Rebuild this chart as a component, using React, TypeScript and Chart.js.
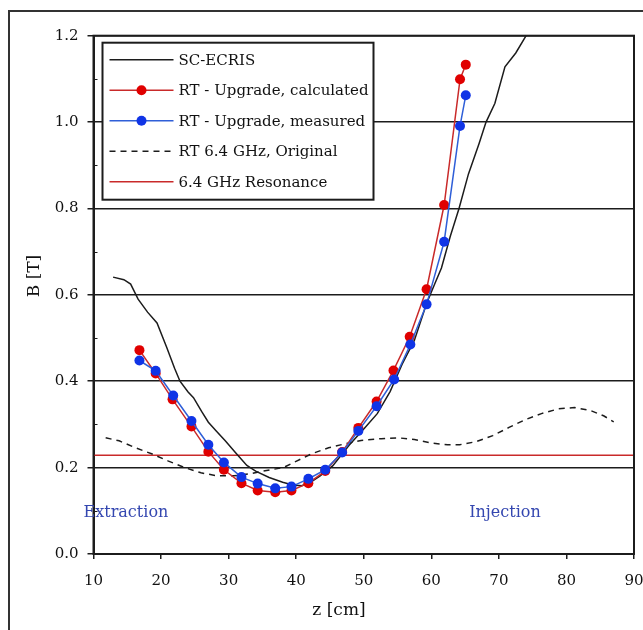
import React, { useEffect, useRef } from "react";
import { Chart, registerables } from "chart.js";

Chart.register(...registerables);

// ---- data ----
const scZ = [12.9, 14.5, 15.5, 16.6, 18.0, 19.4, 20.8, 22.0, 22.8, 24.0, 24.8, 26.0, 27.0, 28.2, 29.5, 31.0, 32.7, 34.0, 36.0, 38.0, 39.5, 40.8, 42.0, 43.5, 45.4, 47.8, 50.2, 52.0, 53.9, 55.7, 57.5, 59.3, 60.5, 61.5, 62.8, 64.1, 65.5, 67.06, 68.1, 69.4, 70.9, 72.5, 74.6];
const scB = [0.641, 0.635, 0.625, 0.59, 0.56, 0.535, 0.48, 0.43, 0.4, 0.375, 0.362, 0.33, 0.305, 0.284, 0.262, 0.235, 0.205, 0.192, 0.177, 0.166, 0.16, 0.158, 0.165, 0.18, 0.204, 0.251, 0.293, 0.325, 0.376, 0.44, 0.495, 0.58, 0.625, 0.662, 0.735, 0.8, 0.88, 0.95, 1.0, 1.043, 1.128, 1.16, 1.215];

const calcZ = [16.8, 19.2, 21.7, 24.5, 27.0, 29.3, 31.9, 34.3, 36.9, 39.3, 41.8, 44.3, 46.8, 49.2, 51.9, 54.4, 56.8, 59.3, 61.9, 64.25, 65.1];
const calcB = [0.472, 0.418, 0.358, 0.295, 0.237, 0.195, 0.164, 0.147, 0.143, 0.147, 0.164, 0.192, 0.236, 0.292, 0.353, 0.425, 0.503, 0.613, 0.808, 1.099, 1.133];

const measZ = [16.8, 19.2, 21.8, 24.5, 27.0, 29.3, 31.9, 34.3, 36.9, 39.3, 41.8, 44.3, 46.8, 49.2, 51.9, 54.5, 56.9, 59.3, 61.9, 64.25, 65.1];
const measB = [0.448, 0.424, 0.367, 0.308, 0.253, 0.212, 0.178, 0.163, 0.152, 0.156, 0.174, 0.195, 0.235, 0.285, 0.342, 0.404, 0.485, 0.578, 0.723, 0.991, 1.062];

const origZ = [11.8, 13.8, 16.2, 18.6, 21.1, 23.5, 25.9, 28.3, 30.8, 33.2, 36.2, 38.1, 39.9, 42.3, 44.8, 47.2, 49.6, 52.6, 55.1, 57.5, 59.9, 62.4, 64.2, 66.6, 69.1, 71.5, 73.9, 76.3, 78.8, 81.2, 83.6, 85.5, 87.0];
const origB = [0.269, 0.262, 0.246, 0.232, 0.215, 0.2, 0.188, 0.181, 0.181, 0.186, 0.195, 0.2, 0.214, 0.232, 0.246, 0.255, 0.263, 0.267, 0.269, 0.265, 0.257, 0.253, 0.253, 0.26, 0.274, 0.293, 0.311, 0.325, 0.336, 0.339, 0.332, 0.32, 0.306];

const resZ = [10, 90];
const resB = [0.2286, 0.2286];

const yTicks = [0, 0.2, 0.4, 0.6, 0.8, 1.0, 1.2];
const yMinorTicks = [0.1, 0.3, 0.5, 0.7, 0.9, 1.1];
const xTicks = [10, 20, 30, 40, 50, 60, 70, 80, 90];

const legendLabels = ["SC-ECRIS", "RT - Upgrade, calculated", "RT - Upgrade, measured", "RT 6.4 GHz, Original", "6.4 GHz Resonance"];
const regionLabels = ["Extraction", "Injection"];
const regionZ = [14.8, 70.9];
const regionB = [0.095, 0.095];

const xTitle = "z [cm]";
const yTitle = "B [T]";

const pts = (xs: number[], ys: number[]) => xs.map((x, i) => ({ x, y: ys[i] }));

const FONT = '"DejaVu Serif", serif';
const RED_LINE = "#c92a2a";
const RED_PT = "#e00000";
const BLUE_LINE = "#2f5fd8";
const BLUE_PT = "#1034e6";
const BLACK = "#1c1c1c";

const decor = {
  id: "decor",
  beforeDraw(chart: any) {
    const ctx = chart.ctx;
    ctx.save();
    ctx.fillStyle = "#fff";
    ctx.fillRect(0, 0, chart.width, chart.height);
    ctx.restore();
  },
  afterDatasetsDraw(chart: any) {
    const { ctx, chartArea: a, scales } = chart;
    const xs = scales.x;
    const ys = scales.y;
    ctx.save();
    // plot frame
    ctx.strokeStyle = BLACK;
    ctx.lineWidth = 2;
    ctx.strokeRect(a.left, a.top, a.right - a.left, a.bottom - a.top);
    // minor ticks (inside)
    ctx.lineWidth = 1;
    yMinorTicks.forEach((v) => {
      const py = Math.round(ys.getPixelForValue(v)) + 0.5;
      ctx.beginPath();
      ctx.moveTo(a.left, py);
      ctx.lineTo(a.left + 4, py);
      ctx.stroke();
    });
    // region labels
    ctx.font = `16px ${FONT}`;
    ctx.fillStyle = "#3447b0";
    ctx.textAlign = "center";
    ctx.textBaseline = "middle";
    regionLabels.forEach((t, i) => {
      ctx.fillText(t, xs.getPixelForValue(regionZ[i]), ys.getPixelForValue(regionB[i]));
    });

    // legend
    const lx = a.left + 9;
    const ly = a.top + 7;
    const lw = 271;
    const lh = 157;
    ctx.fillStyle = "#fff";
    ctx.fillRect(lx, ly, lw, lh);
    ctx.strokeStyle = BLACK;
    ctx.lineWidth = 2;
    ctx.strokeRect(lx, ly, lw, lh);
    const sx0 = lx + 7;
    const sx1 = lx + 71;
    const step = 30.5;
    const styles = [
      { c: BLACK, dash: [] as number[], pt: null as string | null },
      { c: RED_LINE, dash: [], pt: RED_PT },
      { c: BLUE_LINE, dash: [], pt: BLUE_PT },
      { c: BLACK, dash: [6, 5], pt: null },
      { c: RED_LINE, dash: [], pt: null },
    ];
    ctx.font = `15px ${FONT}`;
    ctx.textAlign = "left";
    ctx.textBaseline = "middle";
    legendLabels.forEach((t, i) => {
      const yy = ly + 17 + i * step;
      const s = styles[i];
      ctx.strokeStyle = s.c;
      ctx.lineWidth = 1.5;
      ctx.setLineDash(s.dash);
      ctx.beginPath();
      ctx.moveTo(sx0, yy);
      ctx.lineTo(sx1, yy);
      ctx.stroke();
      ctx.setLineDash([]);
      if (s.pt) {
        ctx.fillStyle = s.pt;
        ctx.beginPath();
        ctx.arc((sx0 + sx1) / 2, yy, 5, 0, Math.PI * 2);
        ctx.fill();
      }
      ctx.fillStyle = "#111";
      ctx.fillText(t, sx1 + 5, yy + 1);
    });

    // axis titles
    ctx.fillStyle = "#111";
    ctx.font = `17px ${FONT}`;
    ctx.textAlign = "center";
    ctx.textBaseline = "middle";
    ctx.fillText(xTitle, 339, 611);
    ctx.translate(35, 276);
    ctx.rotate(-Math.PI / 2);
    ctx.fillText(yTitle, 0, 0);
    ctx.restore();
  },
};

export default function App() {
  const ref = useRef<HTMLCanvasElement | null>(null);

  useEffect(() => {
    if (!ref.current) return;
    const chart = new Chart(ref.current, {
      type: "line",
      data: {
        datasets: [
          {
            label: legendLabels[2],
            data: pts(measZ, measB),
            borderColor: BLUE_LINE,
            borderWidth: 1.5,
            pointRadius: 5,
            pointBackgroundColor: BLUE_PT,
            pointBorderColor: BLUE_PT,
            pointBorderWidth: 0,
            order: 0,
          },
          {
            label: legendLabels[1],
            data: pts(calcZ, calcB),
            borderColor: RED_LINE,
            borderWidth: 1.5,
            pointRadius: 5,
            pointBackgroundColor: RED_PT,
            pointBorderColor: RED_PT,
            pointBorderWidth: 0,
            order: 1,
          },
          {
            label: legendLabels[0],
            data: pts(scZ, scB),
            borderColor: BLACK,
            borderWidth: 1.5,
            pointRadius: 0,
            order: 2,
          },
          {
            label: legendLabels[3],
            data: pts(origZ, origB),
            borderColor: BLACK,
            borderWidth: 1.5,
            borderDash: [6, 5],
            pointRadius: 0,
            order: 3,
          },
          {
            label: legendLabels[4],
            data: pts(resZ, resB),
            borderColor: RED_LINE,
            borderWidth: 1.5,
            pointRadius: 0,
            order: 4,
          },
        ],
      },
      options: {
        responsive: false,
        animation: false,
        events: [],
        layout: { padding: { top: 35.7, right: 9, left: 0, bottom: 0 } },
        plugins: { legend: { display: false }, tooltip: { enabled: false } },
        scales: {
          x: {
            type: "linear",
            min: 10,
            max: 90,
            afterBuildTicks: (s: any) => {
              s.ticks = xTicks.map((v) => ({ value: v }));
            },
            afterFit: (s: any) => {
              s.height = 76;
              s.paddingLeft = 0;
              s.paddingRight = 0;
            },
            ticks: {
              color: "#111",
              font: { family: FONT, size: 15 },
              padding: 13,
              maxRotation: 0,
              callback: (v: any) => String(v),
            },
            grid: {
              drawOnChartArea: false,
              drawTicks: true,
              tickLength: 5,
              color: BLACK,
              lineWidth: 1.5,
            },
            border: { display: true, color: BLACK, width: 2 },
          },
          y: {
            type: "linear",
            min: 0,
            max: 1.2,
            afterBuildTicks: (s: any) => {
              s.ticks = yTicks.map((v) => ({ value: v }));
            },
            afterFit: (s: any) => {
              s.width = 93.5;
              s.paddingTop = 0;
              s.paddingBottom = 0;
            },
            ticks: {
              color: "#111",
              font: { family: FONT, size: 15 },
              padding: 9,
              callback: (v: any) => Number(v).toFixed(1),
            },
            grid: {
              drawOnChartArea: true,
              drawTicks: true,
              tickLength: 6,
              color: BLACK,
              lineWidth: 1.5,
            },
            border: { display: true, color: BLACK, width: 2 },
          },
        },
      },
      plugins: [decor],
    });
    return () => chart.destroy();
  }, []);

  return (
    <div style={{ position: "fixed", left: 0, top: 0, width: 643, height: 630, background: "#fff", overflow: "hidden" }}>
      <canvas ref={ref} width={643} height={630} style={{ position: "absolute", left: 0, top: 0 }} />
      <div
        style={{
          position: "absolute",
          left: 8,
          top: 10,
          width: 700,
          height: 700,
          borderLeft: "2px solid #333",
          borderTop: "2px solid #333",
          pointerEvents: "none",
        }}
      />
    </div>
  );
}
